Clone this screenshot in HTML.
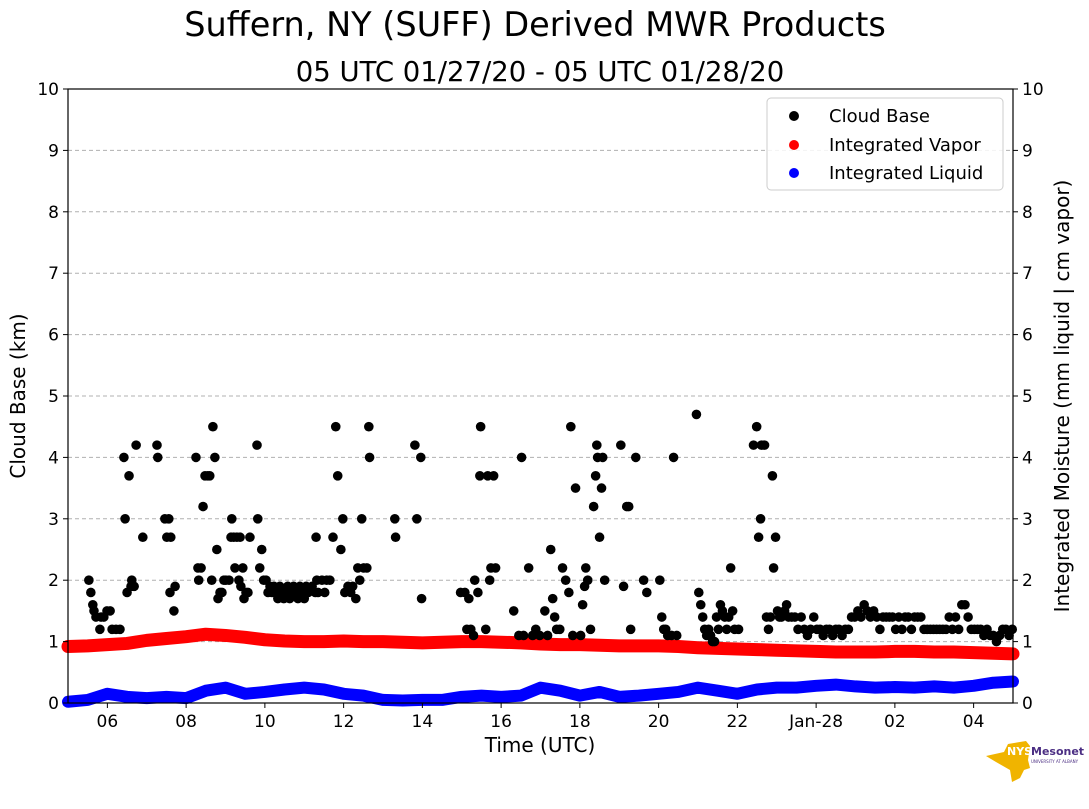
<!DOCTYPE html>
<html><head><meta charset="utf-8"><style>
body{margin:0;background:#fff;font-family:"Liberation Sans","DejaVu Sans",sans-serif;}
svg text{font-family:"DejaVu Sans","Liberation Sans",sans-serif;}
</style></head><body>
<svg id="chart" width="1089" height="804" xmlns="http://www.w3.org/2000/svg">
<rect width="1089" height="804" fill="#fff"/>
<text x="535" y="36" font-size="33.5" text-anchor="middle">Suffern, NY (SUFF) Derived MWR Products</text>
<text x="540" y="81" font-size="27.5" text-anchor="middle">05 UTC 01/27/20 - 05 UTC 01/28/20</text>
<g id="grid"></g>
<g id="series"></g>
<rect x="68" y="89" width="945" height="614" fill="none" stroke="#000" stroke-width="1.2"/>
<g id="axes"></g>
<text x="540" y="752" font-size="20" text-anchor="middle">Time (UTC)</text>
<text transform="translate(25,396) rotate(-90)" font-size="20" text-anchor="middle">Cloud Base (km)</text>
<text transform="translate(1069,396) rotate(-90)" font-size="20" text-anchor="middle">Integrated Moisture (mm liquid | cm vapor)</text>
<g>
<rect x="767" y="98" width="236" height="92" rx="4" fill="#fff" fill-opacity="0.85" stroke="#ccc"/>
<circle cx="794" cy="116" r="5" fill="#000"/><text x="829" y="122" font-size="18">Cloud Base</text>
<circle cx="794" cy="145" r="5" fill="#f00"/><text x="829" y="151" font-size="18">Integrated Vapor</text>
<circle cx="794" cy="173" r="5" fill="#00f"/><text x="829" y="179" font-size="18">Integrated Liquid</text>
</g>
<g>
<path d="M986 756 L1004 752 L1008 744 L1026 741 L1030 746 L1028 760 L1030 768 L1024 770 L1020 778 L1012 782 L1010 770 L996 762 Z" fill="#f0b400"/>
<text x="1007" y="755" font-size="11" font-weight="bold" fill="#fff">NYS</text>
<text x="1031" y="755" font-size="11" font-weight="bold" fill="#4b2e83">Mesonet</text>
<text x="1031" y="763" font-size="4" fill="#4b2e83">UNIVERSITY AT ALBANY</text>
</g>
</svg>
<script>
const cbHours=[0.53,0.58,0.63,0.66,0.71,0.81,0.84,0.91,0.99,1.07,1.12,1.22,1.32,1.42,1.45,1.50,1.55,1.60,1.62,1.68,1.73,1.90,2.26,2.28,2.46,2.51,2.56,2.59,2.61,2.69,2.72,3.25,3.30,3.32,3.38,3.43,3.48,3.55,3.60,3.65,3.68,3.73,3.78,3.81,3.86,3.91,3.96,4.01,4.09,4.14,4.16,4.21,4.24,4.29,4.34,4.37,4.39,4.44,4.47,4.52,4.57,4.62,4.80,4.82,4.87,4.92,4.97,5.03,
5.08,5.13,5.18,5.23,5.28,5.33,5.38,5.43,5.48,5.53,5.58,5.63,5.68,5.73,5.78,5.84,5.89,5.94,6.00,6.05,6.10,6.20,6.28,
6.30,6.32,6.35,6.45,6.52,6.57,6.65,6.73,6.80,6.85,6.93,6.98,7.03,7.11,7.18,7.23,7.31,7.36,7.41,7.46,7.51,7.59,7.64,7.66,8.30,8.32,8.81,8.86,8.96,8.98,
9.97,10.08,10.13,10.18,10.23,10.30,10.33,10.41,10.46,10.48,10.61,10.66,10.71,10.74,10.81,10.86,11.32,11.45,11.52,11.57,11.70,11.80,11.88,11.98,12.11,12.18,12.26,12.31,12.36,12.41,12.49,12.56,12.64,12.72,12.77,12.82,12.89,13.02,13.07,13.12,13.15,13.20,13.27,13.35,13.40,13.43,13.45,13.50,13.55,13.58,13.63,14.04,14.11,14.19,14.24,14.29,14.42,14.62,14.70,15.03,15.08,15.13,15.18,15.23,15.33,15.38,15.46,
15.96,16.02,16.07,16.12,16.17,16.22,16.27,16.32,16.37,16.42,16.47,16.52,16.57,16.62,16.68,16.73,16.78,16.83,16.88,16.93,17.03,17.41,17.49,17.54,17.59,17.61,17.69,17.74,17.79,17.84,17.89,17.92,17.97,18.02,18.07,18.12,18.20,18.25,18.30,
18.38,18.46,18.54,18.62,18.70,18.78,18.86,18.94,19.02,19.10,19.18,19.26,19.34,19.42,19.50,19.58,19.66,19.74,19.82,19.90,19.98,20.06,20.14,20.22,20.30,20.38,20.46,20.54,20.62,20.70,20.78,20.86,20.94,21.02,21.10,21.18,21.26,21.34,21.42,21.50,21.58,21.66,21.74,21.82,21.90,21.98,22.06,22.14,22.22,22.30,22.38,22.46,22.54,22.62,22.70,22.78,22.86,22.94,23.02,23.10,23.18,23.26,23.34,23.42,23.50,23.58,23.66,23.74,23.82,23.90,23.98];
const cbKm=[2.0,1.8,1.6,1.5,1.4,1.2,1.4,1.4,1.5,1.5,1.2,1.2,1.2,4.0,3.0,1.8,3.7,1.9,2.0,1.9,4.2,2.7,4.2,4.0,3.0,2.7,3.0,1.8,2.7,1.5,1.9,4.0,2.2,2.0,2.2,3.2,3.7,3.7,3.7,2.0,4.5,4.0,2.5,1.7,1.8,1.8,2.0,2.0,2.0,2.7,3.0,2.7,2.2,2.7,2.0,2.7,1.9,2.2,1.7,1.8,1.8,2.7,4.2,3.0,2.2,2.5,2.0,2.0,
1.8,1.9,1.8,1.9,1.8,1.7,1.9,1.8,1.7,1.8,1.9,1.7,1.8,1.9,1.8,1.7,1.9,1.8,1.7,1.9,1.8,1.9,1.8,
2.7,2.0,1.8,2.0,1.8,2.0,2.0,2.7,4.5,3.7,2.5,3.0,1.8,1.9,1.8,1.9,1.7,2.2,2.0,3.0,2.2,2.2,4.5,4.0,3.0,2.7,4.2,3.0,4.0,1.7,
1.8,1.8,1.2,1.7,1.2,1.1,2.0,1.8,3.7,4.5,1.2,3.7,2.0,2.2,3.7,2.2,1.5,1.1,4.0,1.1,2.2,1.1,1.2,1.1,1.5,1.1,2.5,1.7,1.4,1.2,1.2,2.2,2.0,1.8,4.5,1.1,3.5,1.1,1.6,1.9,2.2,2.0,1.2,3.2,3.7,4.2,4.0,2.7,3.5,4.0,2.0,4.2,1.9,3.2,3.2,1.2,4.0,2.0,1.8,2.0,1.4,1.2,1.2,1.1,1.1,4.0,1.1,
4.7,1.8,1.6,1.4,1.2,1.1,1.2,1.1,1.0,1.0,1.4,1.2,1.6,1.5,1.4,1.2,1.4,2.2,1.5,1.2,1.2,4.2,4.5,2.7,3.0,4.2,4.2,1.4,1.2,1.4,3.7,2.2,2.7,1.5,1.4,1.4,1.5,1.6,1.4,
1.4,1.4,1.2,1.4,1.2,1.1,1.2,1.4,1.2,1.2,1.1,1.2,1.2,1.1,1.2,1.2,1.1,1.2,1.2,1.4,1.4,1.5,1.4,1.6,1.5,1.4,1.5,1.4,1.2,1.4,1.4,1.4,1.4,1.2,1.4,1.2,1.4,1.4,1.2,1.4,1.4,1.4,1.2,1.2,1.2,1.2,1.2,1.2,1.2,1.2,1.4,1.2,1.4,1.2,1.6,1.6,1.4,1.2,1.2,1.2,1.2,1.1,1.2,1.1,1.1,1.0,1.1,1.2,1.2,1.1,1.2];
const vaporHours=[0,0.5,1,1.5,2,2.5,3,3.5,4,4.5,5,5.5,6,6.5,7,7.5,8,8.5,9,9.5,10,10.5,11,11.5,12,12.5,13,13.5,14,14.5,15,15.5,16,16.5,17,17.5,18,18.5,19,19.5,20,20.5,21,21.5,22,22.5,23,23.5,24];
const vaporVals=[0.92,0.93,0.95,0.97,1.02,1.05,1.08,1.12,1.1,1.07,1.03,1.01,1.0,1.0,1.01,1.0,1.0,0.99,0.98,0.99,1.0,1.0,0.99,0.98,0.96,0.95,0.95,0.94,0.93,0.93,0.93,0.92,0.9,0.89,0.88,0.87,0.86,0.85,0.84,0.83,0.83,0.83,0.84,0.84,0.83,0.83,0.82,0.81,0.8];
const liquidVals=[0.02,0.05,0.15,0.1,0.08,0.1,0.08,0.2,0.25,0.15,0.18,0.22,0.25,0.22,0.15,0.12,0.05,0.04,0.05,0.05,0.1,0.12,0.1,0.12,0.25,0.2,0.12,0.18,0.1,0.12,0.15,0.18,0.25,0.2,0.15,0.22,0.25,0.25,0.28,0.3,0.27,0.25,0.26,0.25,0.27,0.25,0.28,0.33,0.35];
const xTickHours=[1,3,5,7,9,11,13,15,17,19,21,23];
const xTickLabels=["06","08","10","12","14","16","18","20","22","Jan-28","02","04"];
const yTicks=[0,1,2,3,4,5,6,7,8,9,10];

const NS="http://www.w3.org/2000/svg";
const X0=68,X1=1013,Y0=703,Y1=89;
const xs=h=>X0+(X1-X0)*h/24;
const ys=v=>Y0-(Y0-Y1)*v/10;
function mk(t,a,p){const e=document.createElementNS(NS,t);for(const k in a)e.setAttribute(k,a[k]);p.appendChild(e);return e;}
const grid=document.getElementById('grid'),axes=document.getElementById('axes'),ser=document.getElementById('series');
yTicks.forEach(v=>{
 if(v>0&&v<10){const g=mk('line',{x1:X0,x2:X1,y1:ys(v),y2:ys(v),stroke:'#b0b0b0','stroke-dasharray':'4,3'},grid);
 
 }
 mk('line',{x1:X0-5,x2:X0,y1:ys(v),y2:ys(v),stroke:'#000'},axes);
 mk('line',{x1:X1,x2:X1+5,y1:ys(v),y2:ys(v),stroke:'#000'},axes);
 const l=mk('text',{x:X0-9,y:ys(v)+6,'font-size':17,'text-anchor':'end'},axes);l.textContent=v;
 
 
 const r=mk('text',{x:X1+9,y:ys(v)+6,'font-size':17},axes);r.textContent=v;
 
 
});
xTickHours.forEach((h,i)=>{
 mk('line',{x1:xs(h),x2:xs(h),y1:Y0,y2:Y0+5,stroke:'#000'},axes);
 const t=mk('text',{x:xs(h),y:Y0+24,'font-size':17,'text-anchor':'middle'},axes);t.textContent=xTickLabels[i];
 
 
});
function band(vals,color,name,w){
 const pts=vaporHours.map((h,i)=>xs(h)+','+ys(vals[i])).join(' ');
 const p=mk('polyline',{points:pts,fill:'none',stroke:color,'stroke-width':w,'stroke-linecap':'round','stroke-linejoin':'round'},ser);
 
 
}
band(vaporVals,'#f00','integrated-vapor-series',13);
band(liquidVals,'#00f','integrated-liquid-series',12);
cbHours.forEach((h,i)=>{
 const c=mk('circle',{cx:xs(h),cy:ys(cbKm[i]),r:4.8,fill:'#000'},ser);
 
 
});
</script>
</body></html>
